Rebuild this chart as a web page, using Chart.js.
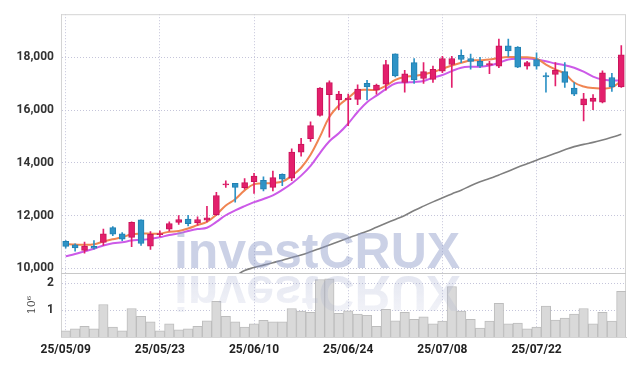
<!DOCTYPE html>
<html>
<head>
<meta charset="utf-8">
<script src="https://cdn.jsdelivr.net/npm/chart.js@4/dist/chart.umd.min.js"></script>
<style>
  html, body { margin: 0; padding: 0; background: #fff; }
  canvas { display: block; }
</style>
</head>
<body>
<canvas id="stockChart" width="634" height="366"></canvas>
<script>
// trading days (yy/mm/dd)
const dates = [
  '25/05/09','25/05/12','25/05/13','25/05/14','25/05/15','25/05/16','25/05/19','25/05/20','25/05/21','25/05/22',
  '25/05/23','25/05/26','25/05/27','25/05/28','25/05/29','25/05/30','25/06/02','25/06/04','25/06/05','25/06/09',
  '25/06/10','25/06/11','25/06/12','25/06/13','25/06/16','25/06/17','25/06/18','25/06/19','25/06/20','25/06/23',
  '25/06/24','25/06/25','25/06/26','25/06/27','25/06/30','25/07/01','25/07/02','25/07/03','25/07/04','25/07/07',
  '25/07/08','25/07/09','25/07/10','25/07/11','25/07/14','25/07/15','25/07/16','25/07/17','25/07/18','25/07/21',
  '25/07/22','25/07/23','25/07/24','25/07/25','25/07/28','25/07/29','25/07/30','25/07/31','25/08/01','25/08/04'
];

const opens = [
  11020,10890,10680,10830,10980,11540,11310,11170,11840,10840,
  11280,11480,11740,11870,11720,11830,12030,13160,13220,13060,
  13290,13340,13070,13560,13420,14410,14920,15800,16590,16390,
  16400,16410,17020,16760,16990,18140,17050,17800,17200,17170,
  17480,17730,18080,17960,17850,17710,17670,18440,18390,17670,
  17920,17310,17360,17460,16840,16200,16330,16300,17240,16880
];
const highs = [
  11050,10930,10990,11050,11490,11580,11350,11760,11840,11390,
  11420,11760,12000,12010,11950,12350,12880,13320,13220,13400,
  13600,13470,13690,13580,14530,14930,15560,16860,17110,16710,
  16610,16960,17130,16990,17890,18140,17510,17960,17800,17670,
  18040,18040,18290,18130,18000,17850,18700,18700,18410,17850,
  18170,17420,17800,17800,17050,16640,16590,17490,17400,18450
];
const lows = [
  10760,10650,10570,10730,10870,11240,11050,10820,10870,10720,
  11200,11420,11660,11610,11640,11760,12010,13070,12510,13000,
  12840,12940,12940,13130,13320,14250,14810,15770,14970,16020,
  15410,16210,16390,16610,16760,17260,16680,17010,17010,17050,
  17420,16860,17800,17550,17610,17380,17610,18040,17610,17550,
  17550,16680,16920,16860,16550,15590,16020,16270,16710,16860
];
const closes = [
  10830,10770,10840,10760,11310,11290,11100,11740,10940,11290,
  11320,11700,11850,11690,11850,11910,12760,13200,13070,13250,
  13500,13000,13440,13380,14410,14710,15410,16840,17050,16610,
  16460,16800,16880,16950,17730,17300,17380,17150,17460,17550,
  17960,17960,17920,17850,17670,17770,18440,18250,17630,17800,
  17670,17260,17510,17050,16610,16430,16460,17420,16880,18100
];

// moving averages
const maShort = [
  10915,10900,10892,10915,11016,11101,11176,11288,11314,11314,
  11314,11389,11415,11512,11639,11762,12034,12385,12620,12956,
  13191,13217,13235,13291,13504,13814,14310,14997,15743,16176,
  16463,16735,16772,16772,16922,17146,17258,17295,17358,17444,
  17571,17694,17795,17881,17892,17918,17981,18019,18004,18004,
  17955,17731,17545,17384,17049,16899,16836,16825,16862,17108
];
const maMid = [
  10456,10542,10642,10743,10866,10952,10989,11053,11079,11116,
  11176,11266,11325,11415,11489,11538,11762,12012,12198,12359,
  12508,12631,12769,12974,13217,13515,13888,14373,14821,15120,
  15493,15929,16302,16549,16799,17011,17049,17071,17108,17235,
  17332,17481,17608,17646,17646,17694,17795,17918,17955,17955,
  17918,17854,17769,17705,17608,17459,17272,17160,17123,17123
];
const maLong = [
  null,null,null,null,null,null,null,null,null,null,
  null,null,null,null,null,null,null,null,9700,9915,
  10027,10120,10213,10307,10407,10504,10624,10754,10885,11016,
  11146,11277,11407,11556,11706,11855,12004,12191,12359,12519,
  12672,12821,12963,13131,13280,13403,13541,13683,13832,13963,
  14101,14232,14362,14493,14616,14702,14776,14866,14970,15082
];

// volume in millions of shares
const volumes = [
  0.23,0.30,0.40,0.30,1.21,0.37,0.23,1.06,0.77,0.56,
  0.23,0.49,0.27,0.30,0.40,0.60,1.33,0.77,0.56,0.37,
  0.49,0.62,0.56,0.56,1.06,0.96,0.92,2.14,2.16,0.88,
  0.97,0.85,0.81,0.40,1.03,0.60,0.92,0.66,0.75,0.49,
  0.59,1.88,0.96,0.66,0.33,0.59,1.25,0.49,0.52,0.30,
  0.37,1.15,0.63,0.70,0.85,1.06,0.49,0.92,0.59,1.70
];

const priceTicks = [10000, 12000, 14000, 16000, 18000];
const volumeTicks = [1, 2];

const UP = '#e31f6c', UP_EDGE = '#c9145a';
const DOWN = '#2e93c6', DOWN_EDGE = '#2180b2';
const isUp = opens.map((o, i) => closes[i] >= o);

const tickFont = { family: 'Roboto', size: 12, weight: 'bold' };

// frame lines and watermark
const framePlugin = {
  id: 'frame',
  beforeDatasetsDraw(chart) {
    const { ctx, chartArea: a } = chart;
    const y = chart.scales.y;
    ctx.save();
    ctx.strokeStyle = '#d4d4d4';
    ctx.lineWidth = 1;
    ctx.strokeRect(a.left + 0.5, a.top + 0.5, a.right - a.left - 1, a.bottom - a.top);
    ctx.strokeStyle = '#c8c8c8';
    ctx.beginPath();
    ctx.moveTo(a.left, Math.round(y.bottom) + 0.5);
    ctx.lineTo(a.right, Math.round(y.bottom) + 0.5);
    ctx.stroke();
    ctx.restore();
  },
  afterDatasetsDraw(chart) {
    const { ctx, chartArea: a } = chart;
    const base = chart.scales.y.bottom - 5;
    const cx = chart.width / 2;
    ctx.save();
    ctx.beginPath();
    ctx.rect(a.left, a.top, a.right - a.left, a.bottom - a.top);
    ctx.clip();
    ctx.font = 'bold 50px "Liberation Sans", Arial, sans-serif';
    ctx.textAlign = 'center';
    ctx.textBaseline = 'alphabetic';
    ctx.fillStyle = 'rgba(140,153,200,0.45)';
    ctx.fillText('investCRUX', cx, base);
    // mirrored copy under the price pane
    const axis = base + 4;
    ctx.setTransform(1, 0, 0, -1, 0, 2 * axis);
    const g = ctx.createLinearGradient(0, base, 0, base - 38);
    g.addColorStop(0, 'rgba(150,160,200,0.25)');
    g.addColorStop(1, 'rgba(150,160,200,0.12)');
    ctx.fillStyle = g;
    ctx.fillText('investCRUX', cx, base);
    ctx.restore();
  }
};

const ctx = document.getElementById('stockChart').getContext('2d');
new Chart(ctx, {
  type: 'bar',
  data: {
    labels: dates,
    datasets: [
      {
        label: 'body',
        data: opens.map((o, i) => [o, closes[i]]),
        yAxisID: 'y',
        order: 0,
        grouped: false,
        barThickness: 6,
        backgroundColor: isUp.map(u => u ? UP : DOWN),
        borderColor: isUp.map(u => u ? UP_EDGE : DOWN_EDGE),
        borderWidth: 1,
        borderSkipped: false
      },
      {
        label: 'wick',
        data: lows.map((l, i) => [l, highs[i]]),
        yAxisID: 'y',
        order: 1,
        grouped: false,
        barThickness: 1,
        backgroundColor: isUp.map(u => u ? UP : DOWN),
        borderWidth: 0
      },
      {
        type: 'line',
        label: 'MA short',
        data: maShort,
        yAxisID: 'y',
        order: 2,
        borderColor: '#f08552',
        borderWidth: 2,
        pointRadius: 0,
        tension: 0.4
      },
      {
        type: 'line',
        label: 'MA mid',
        data: maMid,
        yAxisID: 'y',
        order: 2,
        borderColor: '#cc5ae8',
        borderWidth: 2,
        pointRadius: 0,
        tension: 0.4
      },
      {
        type: 'line',
        label: 'MA long',
        data: maLong,
        yAxisID: 'y',
        order: 2,
        borderColor: '#7f7f7f',
        borderWidth: 1.6,
        pointRadius: 0,
        tension: 0.4
      },
      {
        label: 'volume',
        data: volumes,
        yAxisID: 'yVol',
        order: 3,
        grouped: false,
        barPercentage: 1,
        categoryPercentage: 1,
        backgroundColor: '#d9d9d9',
        borderColor: '#bdbdbd',
        borderWidth: 1
      }
    ]
  },
  options: {
    responsive: false,
    animation: false,
    devicePixelRatio: 1,
    layout: { padding: { top: 9, right: 8, left: 0, bottom: 0 } },
    plugins: {
      legend: { display: false },
      tooltip: { enabled: false }
    },
    scales: {
      x: {
        type: 'category',
        offset: true,
        afterBuildTicks: s => { s.ticks = s.ticks.filter(t => t.value % 10 === 0); },
        afterFit: s => { s.height = 29; },
        grid: { offset: false, color: '#c5c5da', drawTicks: false },
        border: { color: '#d0d0d0', dash: [1, 2] },
        ticks: { autoSkip: false, maxRotation: 0, padding: 6, color: '#222', font: tickFont }
      },
      y: {
        type: 'linear',
        position: 'left',
        stack: 'panes',
        stackWeight: 263,
        weight: 2,
        min: 9820,
        max: 19640,
        afterBuildTicks: s => { s.ticks = priceTicks.map(v => ({ value: v })); },
        afterFit: s => { s.width = 61; },
        grid: { color: '#c5c5da', drawTicks: false },
        border: { color: '#cfcfcf', dash: [1, 2] },
        ticks: {
          padding: 7, color: '#333', font: tickFont,
          callback: v => v.toLocaleString('en-US')
        }
      },
      yVol: {
        type: 'linear',
        position: 'left',
        stack: 'panes',
        stackWeight: 65,
        weight: 1,
        min: 0,
        max: 2.38,
        afterBuildTicks: s => { s.ticks = volumeTicks.map(v => ({ value: v })); },
        afterFit: s => { s.width = 61; },
        grid: { color: '#c5c5da', drawTicks: false },
        border: { color: '#cfcfcf', dash: [1, 2] },
        title: {
          display: true,
          text: '10\u2076',
          color: '#444',
          padding: { top: 26, bottom: 0 },
          font: { family: 'DejaVu Serif', size: 11 }
        },
        ticks: { padding: 7, color: '#333', font: tickFont }
      }
    }
  },
  plugins: [framePlugin]
});
</script>
</body>
</html>
